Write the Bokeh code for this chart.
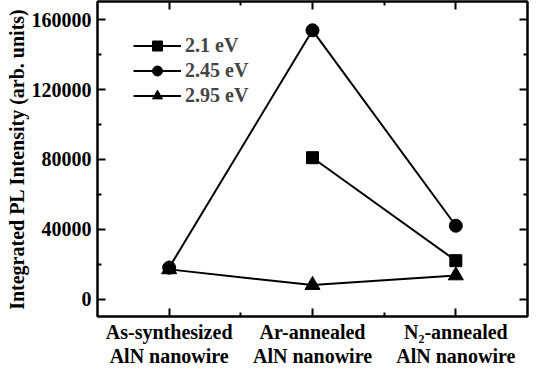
from bokeh.plotting import figure
from bokeh.models import FixedTicker, LinearAxis, Range1d, Legend, LegendItem
from bokeh.embed import file_html
from bokeh.resources import INLINE

categories = ["As-synthesized\nAlN nanowire", "Ar-annealed\nAlN nanowire", "N\u2082-annealed\nAlN nanowire"]
x_sq = [2, 3]
y_21 = [81000, 22000]
x_all = [1, 2, 3]
y_245 = [18000, 154000, 42000]
y_295 = [17000, 8000, 13500]
y_ticks = [0, 40000, 80000, 120000, 160000]
y_minor = [20000, 60000, 100000, 140000]

FONT = "Liberation Serif, Times New Roman, serif"
FS = "20px"

p = figure(width=531, height=369, output_backend="svg", toolbar_location=None,
           x_range=Range1d(0.5, 3.5), y_range=Range1d(-10000, 170500),
           min_border_left=97, min_border_right=4, min_border_top=1, min_border_bottom=40)
p.grid.visible = False
p.outline_line_color = "black"
p.outline_line_width = 2
p.background_fill_color = "white"

def style_axis(ax, labels=True):
    ax.axis_line_width = 2
    ax.axis_line_color = "black"
    ax.major_tick_in = 8
    ax.major_tick_out = 0
    ax.minor_tick_in = 4
    ax.minor_tick_out = 0
    ax.major_tick_line_width = 2
    ax.minor_tick_line_width = 2
    ax.major_label_text_font = FONT
    ax.major_label_text_font_style = "bold"
    ax.major_label_text_font_size = FS
    ax.major_label_text_color = "black"
    ax.major_label_text_line_height = 1.1
    if not labels:
        ax.major_label_text_font_size = "0px"
        ax.major_label_text_alpha = 0

p.xaxis.ticker = FixedTicker(ticks=x_all, minor_ticks=[1.5, 2.5])
p.yaxis.ticker = FixedTicker(ticks=y_ticks, minor_ticks=y_minor)
p.xaxis.major_label_overrides = {i + 1: c for i, c in enumerate(categories)}
p.yaxis.major_label_overrides = {t: str(t) for t in y_ticks}
style_axis(p.xaxis[0])
style_axis(p.yaxis[0])
p.xaxis.major_label_standoff = 4
p.yaxis.major_label_standoff = 6
p.yaxis.axis_label = "Integrated PL Intensity (arb. units)"
p.yaxis.axis_label_text_font = FONT
p.yaxis.axis_label_text_font_style = "bold"
p.yaxis.axis_label_text_font_size = FS
p.yaxis.axis_label_text_color = "black"
p.yaxis.axis_label_standoff = 1

ra = LinearAxis(ticker=FixedTicker(ticks=y_ticks, minor_ticks=y_minor))
style_axis(ra, labels=False)
p.add_layout(ra, "right")
ta = LinearAxis(ticker=FixedTicker(ticks=x_all, minor_ticks=[1.5, 2.5]))
style_axis(ta, labels=False)
p.add_layout(ta, "above")

l1 = p.line(x_sq, y_21, line_color="black", line_width=2)
s1 = p.scatter(x_sq, y_21, marker="square", size=12, color="black")
l2 = p.line(x_all, y_245, line_color="black", line_width=2)
s2 = p.scatter(x_all, y_245, marker="circle", size=13, color="black")
l3 = p.line(x_all, y_295, line_color="black", line_width=2)
s3 = p.scatter(x_all, y_295, marker="triangle", size=15, color="black")

legend = Legend(items=[LegendItem(label="2.1 eV", renderers=[l1, s1]),
                       LegendItem(label="2.45 eV", renderers=[l2, s2]),
                       LegendItem(label="2.95 eV", renderers=[l3, s3])],
                location=(36, 208))
legend.margin = 0
legend.padding = 0
legend.spacing = 0
legend.glyph_width = 48
legend.glyph_height = 25
legend.label_height = 25
legend.label_standoff = 4
legend.label_text_font = FONT
legend.label_text_font_style = "bold"
legend.label_text_font_size = FS
legend.background_fill_alpha = 0
legend.border_line_alpha = 0
p.add_layout(legend, "center")

open("out.html", "w").write(file_html(p, INLINE))
